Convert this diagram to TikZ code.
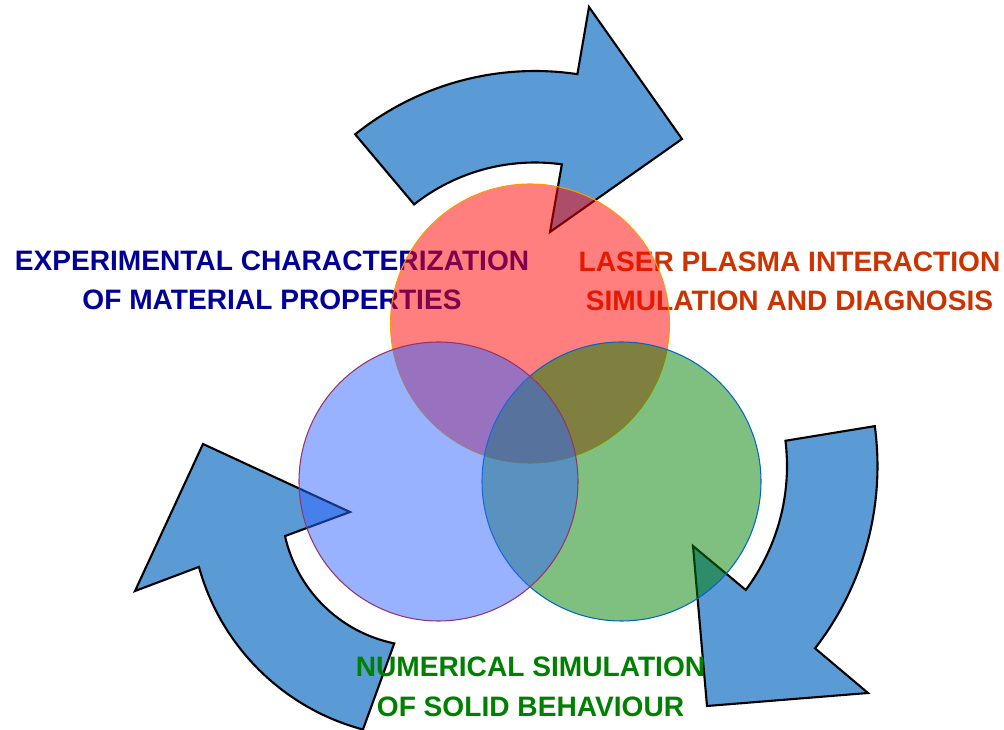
\documentclass[tikz,border=0pt]{standalone}
\usepackage{fontspec}
\setmainfont{Liberation Sans}
\usetikzlibrary{calc}
\definecolor{arrowblue}{RGB}{91,155,213}
\definecolor{labelblue}{RGB}{0,0,153}
\definecolor{labelred}{RGB}{204,51,0}
\definecolor{labelgreen}{RGB}{0,128,0}
\definecolor{zonered}{RGB}{255,0,0}
\definecolor{zonegreen}{RGB}{0,128,0}
\definecolor{zoneblue}{RGB}{51,102,255}
\definecolor{rimred}{RGB}{255,153,0}
\definecolor{rimgreen}{RGB}{0,102,204}
\definecolor{rimblue}{RGB}{153,51,102}

\begin{document}
\begin{tikzpicture}[
  cyclearrow/.style={fill=arrowblue,draw=black,line width=0.6pt},
  zone/.style={circle,minimum size=2.79cm,inner sep=0pt,line width=0.3pt,fill opacity=0.5},
  topic/.style={font=\fontsize{8.0}{11.2}\selectfont\bfseries,align=center,inner sep=0pt,anchor=north}]
\useasboundingbox (0,0) rectangle (10.04,7.30);
% centres of the arcs of the three curved arrows
\coordinate (ctop) at (5.35,3.72);
\coordinate (cright) at (5.80,2.64);
\coordinate (cleft) at (4.226,2.247);
% curved arrows
\draw[cyclearrow] ($(ctop)+(128.8:2.87)$) arc[start angle=128.8,end angle=81.5,radius=2.87]
  -- (5.89,7.23) -- (6.82,5.91) -- (5.50,4.98)
  -- ($(ctop)+(82.1:1.955)$) arc[start angle=82.1,end angle=128.2,radius=1.955] -- cycle;
\draw[cyclearrow] ($(cright)+(7.7:2.975)$) arc[start angle=7.7,end angle=-37.8,radius=2.975]
  -- (8.68,0.37) -- (7.07,0.24) -- (6.93,1.84)
  -- ($(cright)+(-36.8:2.07)$) arc[start angle=-36.8,end angle=7.0,radius=2.07] -- cycle;
\draw[cyclearrow] ($(cleft)+(255.1:2.32)$) arc[start angle=255.1,end angle=195.4,radius=2.32]
  -- (1.35,1.39) -- (2.03,2.86) -- (3.50,2.18)
  -- ($(cleft)+(192.6:1.41)$) arc[start angle=192.6,end angle=258.4,radius=1.41] -- cycle;
% labels
\node[topic,text=labelblue] (experiment) at (2.72,4.80) {EXPERIMENTAL CHARACTERIZATION\\OF MATERIAL PROPERTIES};
\node[topic,text=labelred] (laser) at (7.895,4.79) {LASER PLASMA INTERACTION\\SIMULATION AND DIAGNOSIS};
\node[topic,text=labelgreen] (numerics) at (5.305,0.735) {NUMERICAL SIMULATION\\OF SOLID BEHAVIOUR};
% overlapping circles
\node[zone,fill=zonered,draw=rimred] (redzone) at (5.30,4.065) {};
\node[zone,fill=zonegreen,draw=rimgreen] (greenzone) at (6.215,2.485) {};
\node[zone,fill=zoneblue,draw=rimblue] (bluezone) at (4.385,2.485) {};
\end{tikzpicture}
\end{document}
